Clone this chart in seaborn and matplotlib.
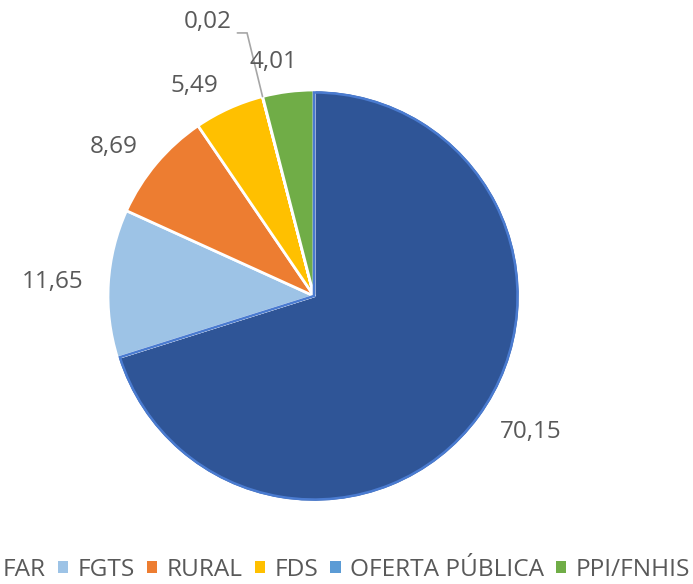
import numpy as np
import matplotlib
matplotlib.use("Agg")
import matplotlib.pyplot as plt
from matplotlib.patches import Patch, Wedge
import seaborn as sns

categories = ["FAR", "FGTS", "RURAL", "FDS", "OFERTA PÚBLICA", "PPI/FNHIS"]
values = [70.15, 11.65, 8.69, 5.49, 0.02, 4.01]
value_labels = ["70,15", "11,65", "8,69", "5,49", "0,02", "4,01"]
colors = ["#2F5597", "#9DC3E6", "#ED7D31", "#FFC000", "#5B9BD5", "#70AD47"]

sns.set_style("white")
plt.rcParams["font.family"] = ["Open Sans", "DejaVu Sans"]
text_color = "#595959"

fig = plt.figure(figsize=(6.93, 5.84), dpi=100)
ax = fig.add_axes([0, 0, 1, 1])

wedges, _ = ax.pie(values, colors=colors, startangle=90, counterclock=False,
                   wedgeprops=dict(edgecolor="white", linewidth=2))

# lighter rim on the big slice
w = wedges[0]
ax.add_patch(Wedge((0, 0), 0.988, w.theta1, w.theta2, fill=False,
                   edgecolor="#4A7BD0", linewidth=1.8))

for w, lab in zip(wedges, value_labels):
    ang = np.deg2rad((w.theta1 + w.theta2) / 2)
    x, y = np.cos(ang), np.sin(ang)
    if lab == "0,02":
        # leader line from the tiny slice up to the label
        ax.plot([x, -0.325, -0.372], [y, 1.277, 1.277], color="#A6A6A6", lw=1.2,
                solid_joinstyle="miter")
        ax.text(-0.398, 1.33, lab, fontsize=17.5, color=text_color,
                ha="right", va="center")
    elif lab == "4,01":
        ax.text(-0.199, 1.136, lab, fontsize=17.5, color=text_color,
                ha="center", va="center")
    else:
        d = 1.12
        ax.text(d * x, d * y, lab, fontsize=17.5, color=text_color,
                ha="left" if x > 0 else "right", va="center")

W, H = 693, 584
cx, cy, r = 314, 296, 206
ax.set_xlim(-cx / r, (W - cx) / r)
ax.set_ylim(-(H - cy) / r, cy / r)
ax.set_aspect("equal")
ax.axis("off")

handles = [Patch(facecolor=c, edgecolor="none") for c in colors]
leg = fig.legend(handles, categories, loc="lower right", bbox_to_anchor=(690 / W, 0.004),
                 ncol=6, frameon=False, fontsize=17.6, handlelength=0.42,
                 handleheight=0.42, handletextpad=0.38, columnspacing=0.5,
                 borderpad=0, borderaxespad=0, labelcolor=text_color)

fig.savefig("out.png", dpi=100)
